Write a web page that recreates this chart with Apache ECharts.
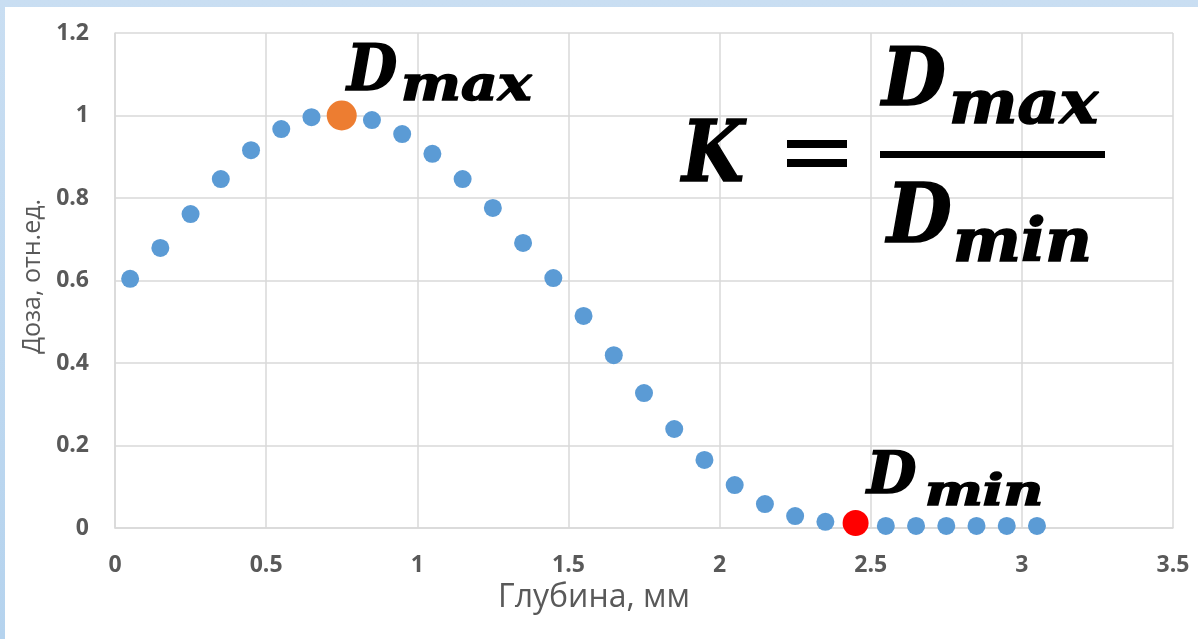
<!DOCTYPE html>
<html>
<head>
<meta charset="utf-8">
<script src="https://cdn.jsdelivr.net/npm/echarts@6/dist/echarts.min.js"></script>
<style>
html,body{margin:0;padding:0;width:1198px;height:639px;overflow:hidden;background:linear-gradient(#c9def2,#b5d3ee);}
#frame{position:absolute;left:5px;top:7px;width:1193px;height:632px;background:#fff;overflow:hidden;}
#chart{position:absolute;left:-5px;top:-7px;width:1198px;height:639px;}
</style>
</head>
<body>
<div id="frame"><div id="chart"></div></div>
<script>
const depth = [0.05,0.15,0.25,0.35,0.45,0.55,0.65,0.75,0.85,0.95,1.05,1.15,1.25,1.35,1.45,1.55,1.65,1.75,1.85,1.95,2.05,2.15,2.25,2.35,2.45,2.55,2.65,2.75,2.85,2.95,3.05];
const dose = [0.604,0.679,0.761,0.846,0.916,0.967,0.996,1.0,0.989,0.955,0.907,0.846,0.776,0.691,0.606,0.514,0.419,0.327,0.240,0.165,0.104,0.058,0.029,0.015,0.012,0.005,0.005,0.005,0.005,0.005,0.005];
const maxPoint = [0.75, 1.0];
const minPoint = [2.45, 0.012];
const xTicks = ['0','0.5','1','1.5','2','2.5','3','3.5'];
const yTicks = ['0','0.2','0.4','0.6','0.8','1','1.2'];
const xName = 'Глубина, мм';
const yName = 'Доза, отн.ед.';

const chart = echarts.init(document.getElementById('chart'), null, {renderer:'canvas'});
const mathFont = '"DejaVu Serif"';
// left edge, baseline, font size, horizontal scale
function txt(x, base, s, size, sx){
  return {type:'text', x:x, y:base + 0.2*size, scaleX:sx, originX:0, originY:0, z:100,
    style:{x:0, y:0, text:s, font:'italic bold '+size+'px '+mathFont, fill:'#000',
      stroke:'#000', lineWidth:1.6, verticalAlign:'bottom'}};
}
const opt = {
  backgroundColor:'transparent',
  animation:false,
  grid:{left:115, right:25, top:33, bottom:111, containLabel:false},
  xAxis:{type:'value', min:0, max:3.5, interval:0.5,
    name:xName, nameLocation:'middle', nameGap:48,
    nameTextStyle:{color:'#595959', fontSize:32, fontFamily:'"Open Sans", "Noto Sans", sans-serif', padding:[0,100,0,0]},
    axisLine:{show:true, lineStyle:{color:'#d9d9d9', width:1.5}},
    axisTick:{show:false},
    splitLine:{show:true, lineStyle:{color:'#d9d9d9', width:1.5}},
    axisLabel:{color:'#595959', fontSize:23, fontWeight:'bold', margin:26, fontFamily:'"Open Sans", sans-serif',
      formatter:(v)=>{const i=Math.round(v/0.5);return xTicks[i];}}
  },
  yAxis:{type:'value', min:0, max:1.2, interval:0.2,
    name:yName, nameLocation:'middle', nameGap:70,
    nameTextStyle:{color:'#595959', fontSize:25, fontFamily:'"Open Sans", "Noto Sans", sans-serif', padding:[0,0,0,8]},
    axisLine:{show:true, lineStyle:{color:'#d9d9d9', width:1.5}},
    axisTick:{show:false},
    splitLine:{show:true, lineStyle:{color:'#d9d9d9', width:1.5}},
    axisLabel:{color:'#595959', fontSize:23, fontWeight:'bold', margin:26, fontFamily:'"Open Sans", sans-serif',
      formatter:(v)=>{const i=Math.round(v/0.2);return yTicks[i];}}
  },
  series:[
    {type:'scatter', symbolSize:18, itemStyle:{color:'#5b9bd5', opacity:1},
      data: depth.map((d,i)=>[d,dose[i]])},
    {type:'scatter', symbolSize:30, z:3, itemStyle:{color:'#ed7d31', opacity:1}, data:[maxPoint]},
    {type:'scatter', symbolSize:26, z:3, itemStyle:{color:'#ff0000', opacity:1}, data:[minPoint]}
  ],
  graphic:[
    // D_max annotation
    txt(347, 93, 'D', 63, 0.92), txt(401, 102, 'max', 48, 1.18),
    // D_min annotation
    txt(867, 495, 'D', 57, 1.0), txt(925, 507, 'min', 42, 1.3),
    // K = Dmax / Dmin
    txt(682, 184, 'K', 84, 0.85),
    {type:'rect', z:100, shape:{x:787, y:140, width:60, height:8}, style:{fill:'#000'}},
    {type:'rect', z:100, shape:{x:787, y:159, width:60, height:8}, style:{fill:'#000'}},
    {type:'rect', z:100, shape:{x:880, y:151, width:225, height:7}, style:{fill:'#000'}},
    txt(882, 108, 'D', 80, 0.92), txt(949, 125, 'max', 60, 1.08),
    txt(887, 245, 'D', 83, 0.9), txt(953, 263, 'min', 60, 1.07)
  ]
};
chart.setOption(opt);
</script>
</body>
</html>
